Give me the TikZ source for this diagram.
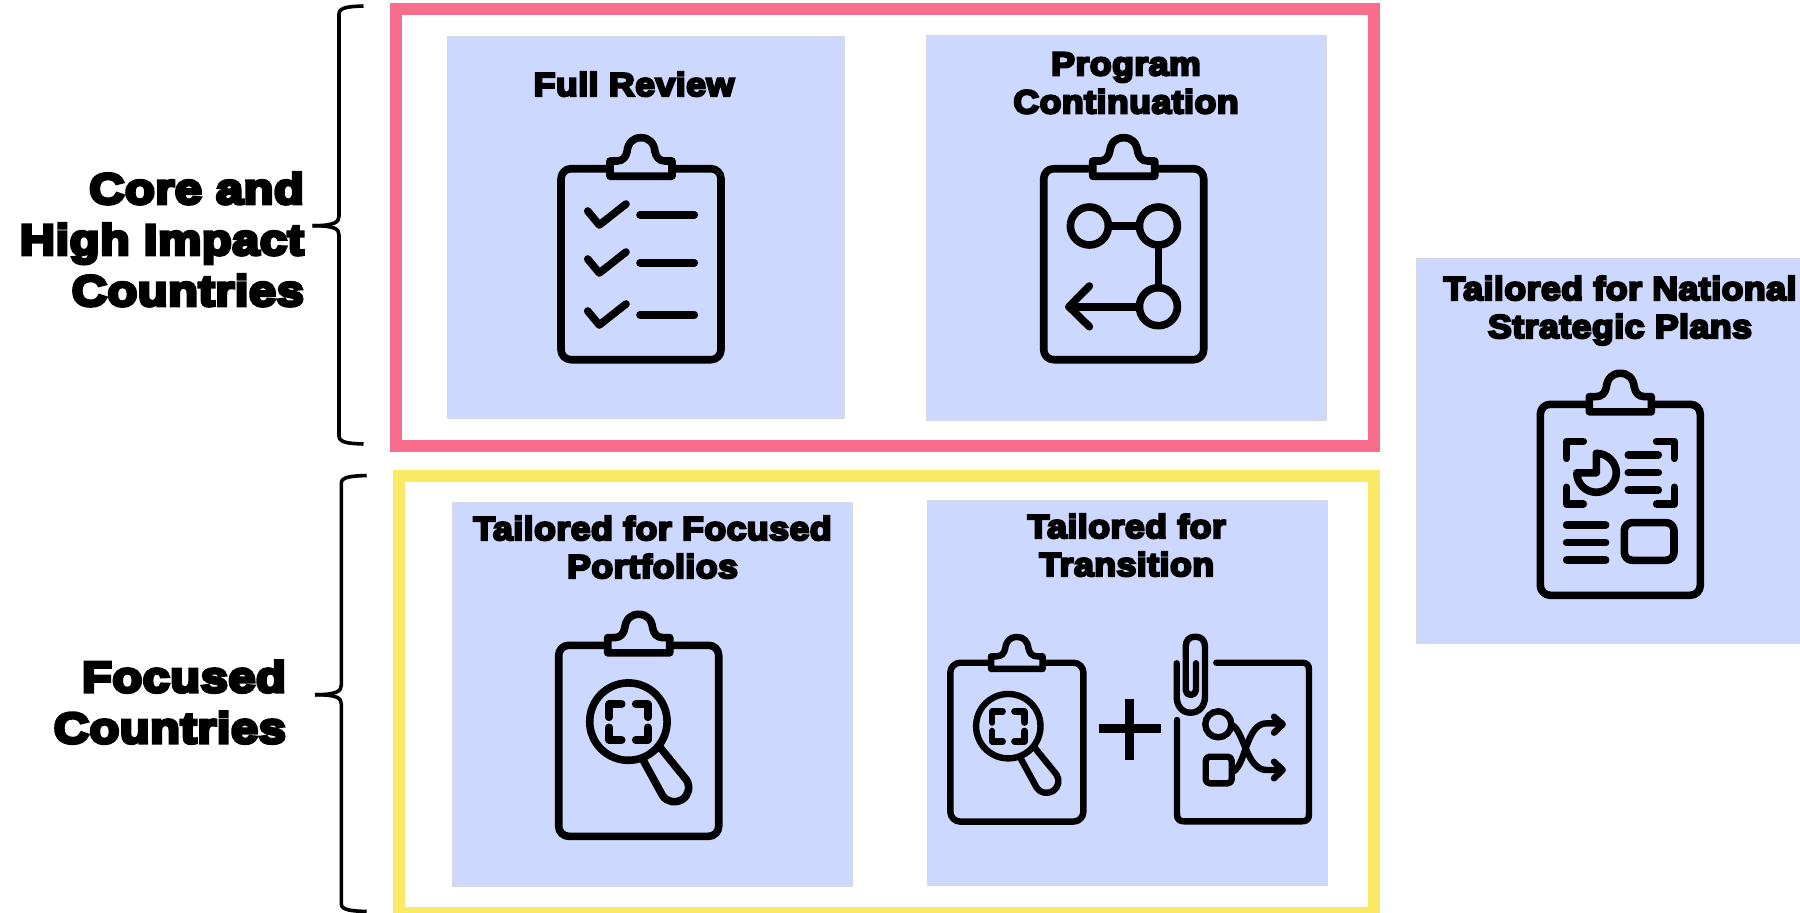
\documentclass[tikz,border=0pt]{standalone}
\usepackage{fontspec}
\newfontfamily\blackfont[FakeBold=7,FakeStretch=1.08,LetterSpace=1.5]{Liberation Sans Bold}
\newfontfamily\sideblackfont[FakeBold=8,FakeStretch=1.13,LetterSpace=1.5]{Liberation Sans Bold}
\definecolor{panelblue}{HTML}{CCD8FE}
\definecolor{panelrule}{HTML}{D3D8E4}
\definecolor{framepink}{HTML}{F76D8B}
\definecolor{frameyellow}{HTML}{F9E965}
\def\inkw{7.6pt}
\tikzset{
  ink/.style={draw=black,line width=\inkw,line cap=round,line join=round},
  panel/.style={fill=panelblue,draw=panelrule,line width=1pt,inner sep=0pt,outer sep=0pt,anchor=north west},
  frame/.style={draw=#1,line width=12pt,fill=white,inner sep=0pt,outer sep=0pt,anchor=north west},
  headtxt/.style={font=\blackfont\fontsize{33}{38}\selectfont,align=center,inner sep=0pt,anchor=base},
  sidetxt/.style={font=\sideblackfont\fontsize{43}{51}\selectfont,align=right,inner sep=0pt,anchor=base east},
  bracket/.style={draw=black,line width=3.6pt,line cap=butt,line join=round},
  clipicon/.pic={
    \draw[ink,rounded corners=10pt] (0,0) rectangle (160,191);
    \draw[ink,fill=panelblue,line cap=butt] (49,7.5) -- (49,-7.7) -- (56,-7.7)
      .. controls (62,-7.7) and (65,-12) .. (66,-17)
      .. controls (67,-26) and (72,-31) .. (80,-31)
      .. controls (88,-31) and (93,-26) .. (94,-17)
      .. controls (95,-12) and (98,-7.7) .. (104,-7.7) -- (111,-7.7) -- (111,7.5) -- cycle;
  },
  lensicon/.pic={
    \draw[ink] (69.7,76.3) circle[radius=38.7];
    \draw[ink] (50.3,72) -- (50.3,58.7) -- (63,58.7);
    \draw[ink] (77,58.7) -- (89,58.7) -- (89,72);
    \draw[ink] (50.3,82) -- (50.3,94.7) -- (63,94.7);
    \draw[ink] (77,94.7) -- (89,94.7) -- (89,82);
    \draw[ink] (84.7,115.3) -- (103.8,150.2)
      .. controls (108,157) and (117,158) .. (123.6,154.2)
      .. controls (130,150) and (132,141) .. (127.6,134.4) -- (101.3,102);
  },
}
\begin{document}
\begin{tikzpicture}[x=1pt,y=-1pt]
\path[use as bounding box] (0,0) rectangle (1800,913);
\clip (0,0) rectangle (1800,913);
% frames
\node[frame=framepink,minimum width=978pt,minimum height=437pt] (pinkframe) at (396,9) {};
\node[frame=frameyellow,minimum width=975pt,minimum height=437pt] (yellowframe) at (399,476) {};
% panels
\node[panel,minimum width=397pt,minimum height=382pt] (pfull) at (447.5,36.5) {};
\node[panel,minimum width=400pt,minimum height=385pt] (pprog) at (926,35.5) {};
\node[panel,minimum width=400pt,minimum height=384pt] (pport) at (452,502.5) {};
\node[panel,minimum width=400pt,minimum height=385pt] (ptrans) at (927.5,500) {};
\node[panel,minimum width=400pt,minimum height=385pt] (pnat) at (1416.5,258.5) {};
% headings (anchored on the baseline of the last line)
\node[headtxt] (tfull) at (634,96) {Full Review};
\node[headtxt] (tprog) at (1126,113.3) {Program\\Continuation};
\node[headtxt] (tnat) at (1620,338) {Tailored for National\\Strategic Plans};
\node[headtxt] (tport) at (652.5,578) {Tailored for Focused\\Portfolios};
\node[headtxt] (ttrans) at (1126.7,576) {Tailored for\\Transition};
% side labels
\node[sidetxt] (tcore) at (304,305.7) {Core and\\High Impact\\Countries};
\node[sidetxt] (tfoc) at (286,743) {Focused\\Countries};
% braces
\draw[bracket] (363.5,6) .. controls (350,6.5) and (339,7) .. (339,14) -- (339,216)
  .. controls (339,222) and (335,225.7) .. (312.5,225.7);
\draw[bracket] (363.5,444) .. controls (350,443.5) and (339,443) .. (339,436) -- (339,235)
  .. controls (339,229) and (335,225.7) .. (312.5,225.7);
\draw[bracket] (366.7,475.5) .. controls (353,476) and (341.3,476.5) .. (341.3,483) -- (341.3,685)
  .. controls (341.3,691) and (337,694.7) .. (315,694.7);
\draw[bracket] (366.7,911.5) .. controls (353,911) and (341.3,910.5) .. (341.3,904) -- (341.3,704)
  .. controls (341.3,698) and (337,694.7) .. (315,694.7);
% full review icon
\pic at (561,168.7) {clipicon};
\begin{scope}[shift={(561,168.7)}]
  \foreach \dy in {0,48,100}{
    \draw[ink] (26.7,42.3+\dy) -- (38.3,56.3+\dy) -- (65,35.3+\dy);
    \draw[ink] (79,46+\dy) -- (133.3,46+\dy);
  }
\end{scope}
% program icon
\pic at (1043.7,168.7) {clipicon};
\begin{scope}[shift={(1043.7,168.7)}]
  \draw[ink] (45.7,57.3) circle[radius=19];
  \draw[ink] (114.7,57.3) circle[radius=19];
  \draw[ink] (114.7,138) circle[radius=19];
  \draw[ink] (64.7,57.3) -- (95.7,57.3);
  \draw[ink] (114.7,76.3) -- (114.7,119);
  \draw[ink] (95.7,138) -- (25.3,138);
  \draw[ink] (45.7,117.3) -- (25.3,138) -- (45.7,158);
\end{scope}
% national icon
\pic at (1540.3,404.3) {clipicon};
\begin{scope}[shift={(1540.3,404.3)}]
  \draw[ink] (26.3,54) -- (26.3,37.3) -- (43,37.3);
  \draw[ink] (116.3,37.3) -- (134,37.3) -- (134,54);
  \draw[ink] (26.3,83) -- (26.3,99.7) -- (43,99.7);
  \draw[ink] (116.3,99.7) -- (134,99.7) -- (134,83);
  \draw[ink] (56,49) .. controls (66.8,49) and (76,57.7) .. (76,68.5)
    .. controls (76,79.3) and (66.8,88) .. (56,88)
    .. controls (45.2,88) and (36.5,79.3) .. (36.5,68.5) -- (56,68.5) -- cycle;
  \foreach \yy in {50.7,68.3,85.7}{\draw[ink] (88,\yy) -- (118,\yy);}
  \foreach \yy in {120.7,138.3,155.7}{\draw[ink] (26.3,\yy) -- (65.3,\yy);}
  \draw[ink,rounded corners=8pt] (84,118.3) rectangle (133.7,156);
\end{scope}
% portfolio icon
\pic at (558.7,645.3) {clipicon};
\pic at (558.7,645.3) {lensicon};
% transition icons
\begin{scope}
  \def\inkw{6.4pt}
  \pic[scale=.832] at (950.3,662.7) {clipicon};
  \pic[scale=.832] at (950.3,662.7) {lensicon};
  \draw[black,line width=8.8pt] (1099,728.7) -- (1160.7,728.7);
  \draw[black,line width=8.8pt] (1129.7,699.3) -- (1129.7,760);
  \draw[ink] (1216.3,662.7) -- (1302,662.7) .. controls (1307,662.7) and (1309,665) .. (1309,670)
    -- (1309,814) .. controls (1309,819) and (1307,821.3) .. (1302,821.3)
    -- (1184,821.3) .. controls (1179,821.3) and (1177,819) .. (1177,814) -- (1177,720);
  \draw[ink] (1176.7,663.3) -- (1176.7,696.7)
    .. controls (1176.7,706) and (1182,712.7) .. (1190.7,712.7)
    .. controls (1199,712.7) and (1205,706) .. (1205,696.7) -- (1205,646.7)
    .. controls (1205,640) and (1201,636.7) .. (1195.3,636.7)
    .. controls (1189.5,636.7) and (1185.7,640) .. (1185.7,646.7) -- (1185.7,690)
    .. controls (1185.7,693) and (1188,695) .. (1190.7,695)
    .. controls (1193.5,695) and (1196,693) .. (1196,690) -- (1196,663.3);
  \draw[ink] (1218.3,724.3) circle[radius=13];
  \draw[ink,rounded corners=4pt] (1205.7,756.7) rectangle (1231.7,783.3);
  \draw[ink] (1231.7,725) .. controls (1244,730) and (1246,770) .. (1266.7,770) -- (1281.7,770);
  \draw[ink] (1233,771.7) .. controls (1246,765) and (1246,723.3) .. (1266.7,723.3) -- (1281.7,723.3);
  \draw[ink] (1274,716.7) -- (1282.7,724.3) -- (1274,732.7);
  \draw[ink] (1274,761.7) -- (1282.7,770) -- (1274,778.3);
\end{scope}
\end{tikzpicture}
\end{document}
